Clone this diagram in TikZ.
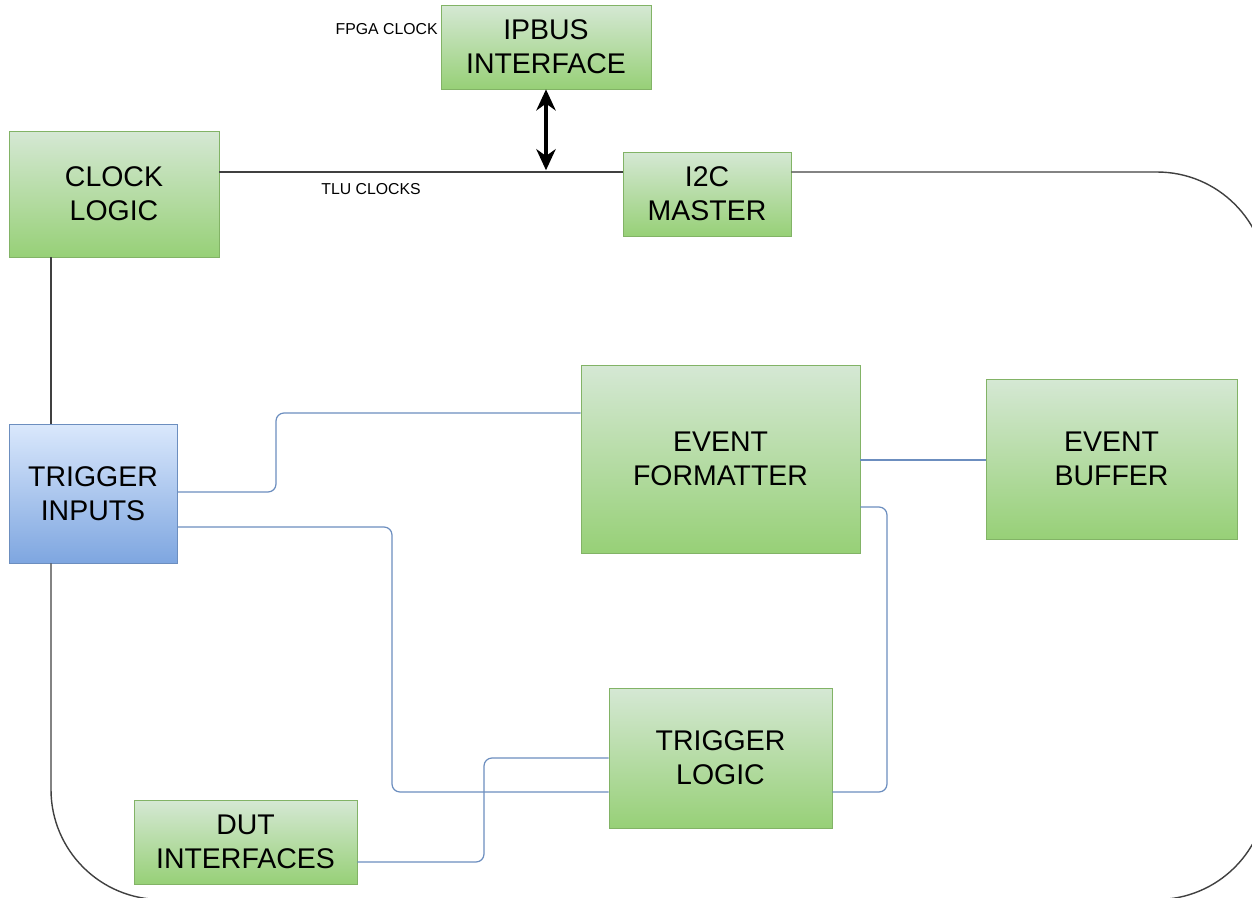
\documentclass[tikz,border=0pt]{standalone}
\usepackage{fontspec}
\setmainfont{Liberation Sans}
\usetikzlibrary{arrows.meta}

\definecolor{grntop}{HTML}{D5E8D4}
\definecolor{grnbot}{HTML}{97D077}
\definecolor{grnline}{HTML}{82B366}
\definecolor{blutop}{HTML}{DAE8FC}
\definecolor{blubot}{HTML}{7EA6E0}
\definecolor{bluline}{HTML}{6C8EBF}

\tikzset{
  blk/.style={draw=grnline, top color=grntop, bottom color=grnbot, align=center,
    inner sep=0pt, font=\fontsize{16.2}{19.3}\selectfont},
  inblk/.style={blk, draw=bluline, top color=blutop, bottom color=blubot},
  wire/.style={draw=bluline, line width=0.7pt, rounded corners=0.16cm},
  bus/.style={draw=black!75, line width=0.8pt},
  tag/.style={font=\fontsize{9}{10}\selectfont, inner sep=0pt}
}

\begin{document}
\begin{tikzpicture}[x=0.02cm, y=-0.02cm]
  \useasboundingbox (0,0) rectangle (1252,897);
  \clip (0,0) rectangle (1252,897);

  % blocks
  \node[blk, minimum width=4.2cm, minimum height=1.68cm] (ipbus) at (546,47) {IPBUS\\INTERFACE};
  \node[blk, minimum width=4.2cm, minimum height=2.52cm] (clock) at (114,194) {CLOCK\\LOGIC};
  \node[blk, minimum width=3.36cm, minimum height=1.68cm] (i2c) at (707,194) {I2C\\MASTER};
  \node[inblk, minimum width=3.36cm, minimum height=2.78cm] (trigin) at (93,493.5) {TRIGGER\\INPUTS};
  \node[blk, minimum width=5.58cm, minimum height=3.76cm] (evfmt) at (720.5,459) {EVENT\\FORMATTER};
  \node[blk, minimum width=5.02cm, minimum height=3.2cm] (evbuf) at (1111.5,459) {EVENT\\BUFFER};
  \node[blk, minimum width=4.46cm, minimum height=2.8cm] (triglog) at (720.5,758) {TRIGGER\\LOGIC};
  \node[blk, minimum width=4.46cm, minimum height=1.68cm] (dut) at (245.5,842) {DUT\\INTERFACES};

  % labels
  \node[tag, anchor=east] (fpga) at (438,29) {FPGA CLOCK};
  \node[tag] (tlu) at (371,189) {TLU CLOCKS};

  % clock bus
  \coordinate (bus) at (ipbus.south |- 0,172);
  \draw[bus] (clock.east |- 0,172) -- (i2c.west |- 0,172);
  \draw[bus] (51,0 |- clock.south) -- (51,0 |- trigin.north);
  \draw[bus, rounded corners=2.2cm] (51,0 |- trigin.south) -- (51,899.5)
    -- (1267,899.5) -- (1267,172) -- (i2c.east |- 0,172);
  \draw[{Stealth[length=12pt,width=11pt]}-{Stealth[length=12pt,width=11pt]}, line width=2pt]
    (ipbus.south) -- ([yshift=1pt]bus);

  % data paths
  \draw[wire] (trigin.east |- 0,492) -- (276,492) -- (276,413) -- (evfmt.west |- 0,413);
  \draw[wire] (trigin.east |- 0,527) -- (392,527) -- (392,792) -- (triglog.west |- 0,792);
  \draw[wire] (dut.east |- 0,862) -- (484,862) -- (484,758) -- (triglog.west |- 0,758);
  \draw[wire] (evfmt.east |- 0,460) -- (evbuf.west |- 0,460);
  \draw[wire] (evfmt.east |- 0,507) -- (887,507) -- (887,792) -- (triglog.east |- 0,792);
\end{tikzpicture}
\end{document}
